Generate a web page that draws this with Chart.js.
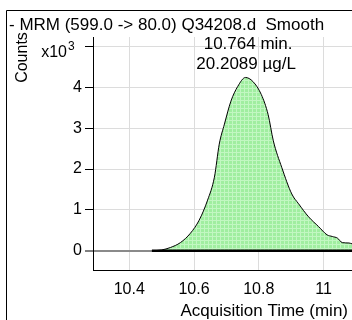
<!DOCTYPE html>
<html><head><meta charset="utf-8">
<script src="https://cdn.jsdelivr.net/npm/chart.js@4"></script>
<style>html,body{margin:0;padding:0;background:#fff}canvas{display:block}</style>
</head><body>
<canvas id="c" width="352" height="320"></canvas>
<script>
const titleText = '- MRM (599.0 -> 80.0) Q34208.d  Smooth';
const xTitle = 'Acquisition Time (min)';
const yTitle = 'Counts';
const yMultiplier = 'x10';
const yExponent = '3';
const peakLabel = ['10.764 min.', '20.2089 \u00b5g/L'];
const peakTime = 10.764;
// acquisition time (min)
const times = [10.470, 10.500, 10.527, 10.558, 10.589, 10.616, 10.642, 10.663, 10.678, 10.694, 10.714, 10.735, 10.759, 10.782, 10.808, 10.829, 10.845, 10.871, 10.902, 10.923, 10.954, 10.985, 11.011, 11.027, 11.043, 11.058, 11.079, 11.088];
// counts (x10^3)
const countsK = [0.00, 0.02, 0.08, 0.20, 0.43, 0.75, 1.24, 1.80, 2.61, 3.10, 3.66, 4.02, 4.24, 4.14, 3.82, 3.33, 2.69, 2.04, 1.39, 1.15, 0.83, 0.59, 0.39, 0.35, 0.31, 0.20, 0.19, 0.17];
const baselineTimes = [10.470, 11.088];
const baselineCounts = [0, 0];
const xTicks = [10.4, 10.6, 10.8, 11];
const yTicks = [0, 1, 2, 3, 4, 5];

const FONT = '"Liberation Sans", Arial, sans-serif';

// hatched green fill pattern
const pc = document.createElement('canvas');
pc.width = 4; pc.height = 4;
const px = pc.getContext('2d');
px.fillStyle = 'rgb(160,238,160)';
px.fillRect(0, 0, 4, 4);
px.fillStyle = 'rgb(194,247,194)';
px.fillRect(0, 0, 4, 1);
px.fillRect(0, 0, 1, 4);
const ctx = document.getElementById('c').getContext('2d');
const pattern = ctx.createPattern(pc, 'repeat');

const decor = {
  id: 'decor',
  afterDraw(chart) {
    const c = chart.ctx;
    c.save();
    // frame
    c.strokeStyle = '#000';
    c.lineWidth = 1;
    c.beginPath();
    c.moveTo(6.5, 320); c.lineTo(6.5, 10.5); c.lineTo(352, 10.5);
    c.stroke();
    c.fillStyle = '#000';
    c.textBaseline = 'alphabetic';
    c.textAlign = 'left';
    c.font = '17px ' + FONT;
    c.fillText(titleText, 9, 30);
    // y title
    c.save();
    c.translate(27, 57.5);
    c.rotate(-Math.PI / 2);
    c.textAlign = 'center';
    c.font = '16px ' + FONT;
    c.fillText(yTitle, 0, 0);
    c.restore();
    // multiplier
    c.textAlign = 'right';
    c.font = '16px ' + FONT;
    c.fillText(yMultiplier, 67, 57);
    c.textAlign = 'left';
    c.font = '12px ' + FONT;
    c.fillText(yExponent, 68, 50);
    // peak annotation
    const xs = chart.scales.x;
    const cx = xs.getPixelForValue(peakTime);
    c.textAlign = 'center';
    c.font = '17px ' + FONT;
    c.fillText(peakLabel[0], cx + 1, 49);
    c.fillText(peakLabel[1], cx - 1, 69);
    // x title
    c.textAlign = 'right';
    c.fillText(xTitle, 348, 316);
    c.restore();
  }
};

new Chart(ctx, {
  type: 'line',
  data: {
    datasets: [
      {
        data: baselineTimes.map((t, i) => ({ x: t, y: baselineCounts[i] })),
        borderColor: '#000', borderWidth: 2.5, pointRadius: 0, fill: false, order: 0
      },
      {
        data: times.map((t, i) => ({ x: t, y: countsK[i] })),
        borderColor: '#000', borderWidth: 1, pointRadius: 0,
        backgroundColor: pattern, fill: 'origin',
        cubicInterpolationMode: 'monotone', order: 1
      }
    ]
  },
  options: {
    responsive: false,
    animation: false,
    devicePixelRatio: 1,
    layout: { padding: { top: 37, left: 0, right: 0, bottom: 0 } },
    plugins: { legend: { display: false }, tooltip: { enabled: false } },
    scales: {
      x: {
        type: 'linear', min: 10.288, max: 11.088,
        afterFit: s => { s.height = 50; },
        afterBuildTicks: s => { s.ticks = xTicks.map(v => ({ value: v })); },
        grid: { color: '#dcdcdc', drawTicks: false, lineWidth: 1 },
        border: { display: true, color: '#000', width: 1 },
        ticks: {
          color: '#000', font: { family: FONT, size: 16 }, padding: 10,
          maxRotation: 0, autoSkip: false,
          callback: v => String(Number(v.toFixed(1)))
        }
      },
      y: {
        type: 'linear', min: -0.47, max: 5.23,
        afterFit: s => { s.width = 93; },
        afterBuildTicks: s => { s.ticks = yTicks.map(v => ({ value: v })); },
        grid: {
          color: c => c.tick && c.tick.value === 0 ? '#8a8a8a' : '#dcdcdc',
          lineWidth: c => c.tick && c.tick.value === 0 ? 2 : 1,
          tickColor: '#000', tickLength: 8, tickWidth: 1
        },
        border: { display: true, color: '#000', width: 1 },
        ticks: {
          color: '#000', font: { family: FONT, size: 16 }, padding: 3,
          autoSkip: false,
          callback: v => v === 5 ? ' ' : String(v)
        }
      }
    }
  },
  plugins: [decor]
});
</script>
</body></html>
